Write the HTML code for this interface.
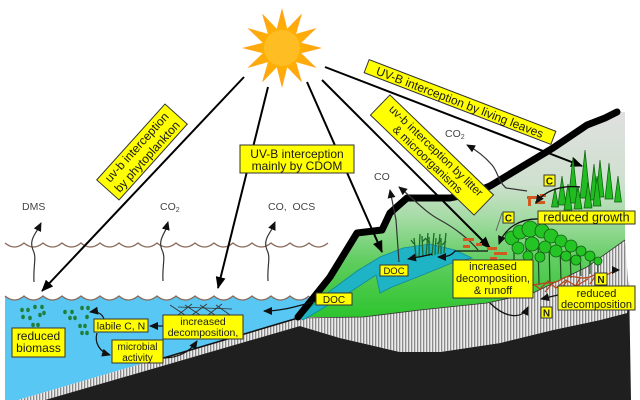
<!DOCTYPE html>
<html><head><meta charset="utf-8"><style>
html,body{margin:0;padding:0;background:#fff;}
svg{display:block;}
text{font-family:"Liberation Sans",Arial,sans-serif;fill:#1a1a1a;}
</style></head><body>
<svg width="640" height="400" viewBox="0 0 640 400" xmlns="http://www.w3.org/2000/svg">
<defs>
 <pattern id="hatch" width="3" height="4" patternUnits="userSpaceOnUse">
  <rect width="3" height="4" fill="#ececec"/>
  <rect width="1.3" height="4" fill="#8a8a8a"/>
 </pattern>
 <linearGradient id="land" x1="0" y1="110" x2="0" y2="320" gradientUnits="userSpaceOnUse">
  <stop offset="0" stop-color="#e0e0e0"/>
  <stop offset="0.35" stop-color="#cfe0cf"/>
  <stop offset="0.52" stop-color="#a3dba3"/>
  <stop offset="0.72" stop-color="#5fcd5f"/>
  <stop offset="1" stop-color="#2bc42b"/>
 </linearGradient>
 <radialGradient id="sunr" cx="282" cy="48" r="40" gradientUnits="userSpaceOnUse">
  <stop offset="0.4" stop-color="#ffb000"/>
  <stop offset="1" stop-color="#ffa21a"/>
 </radialGradient>
 <marker id="big" viewBox="0 0 12 10" refX="11" refY="5" markerWidth="12" markerHeight="10" markerUnits="userSpaceOnUse" orient="auto"><path d="M0,0 L12,5 L0,10 z" fill="#000"/></marker>
 <marker id="sm" viewBox="0 0 9 8" refX="8" refY="4" markerWidth="9" markerHeight="8" markerUnits="userSpaceOnUse" orient="auto"><path d="M0,0 L9,4 L0,8 z" fill="#111"/></marker>
</defs>

<rect width="640" height="400" fill="#fff"/>

<!-- water -->
<path d="M5,296 q9.5,8 19,0 q9.5,8 19,0 q9.5,8 19,0 q9.5,8 19,0 q9.5,8 19,0 q9.5,8 19,0 q9.5,8 19,0 q9.5,8 19,0 q9.5,8 19,0 q9.5,8 19,0 q9.5,8 19,0 q9.5,8 19,0 q9.5,8 19,0 q9.5,8 19,0 q9.5,8 19,0 q9.5,8 19,0 L314,296 L298,318 L18,400 L5,400 Z" fill="#59c7f3"/>
<path d="M5,296 q9.5,8 19,0 q9.5,8 19,0 q9.5,8 19,0 q9.5,8 19,0 q9.5,8 19,0 q9.5,8 19,0 q9.5,8 19,0 q9.5,8 19,0 q9.5,8 19,0 q9.5,8 19,0 q9.5,8 19,0 q9.5,8 19,0 q9.5,8 19,0 q9.5,8 19,0 q9.5,8 19,0 q9.5,8 19,0" fill="none" stroke="#8a6a5a" stroke-width="1.3"/>
<!-- upper wave -->
<path d="M5,243 q9.5,8 19,0 q9.5,8 19,0 q9.5,8 19,0 q9.5,8 19,0 q9.5,8 19,0 q9.5,8 19,0 q9.5,8 19,0 q9.5,8 19,0 q9.5,8 19,0 q9.5,8 19,0 q9.5,8 19,0 q9.5,8 19,0 q9.5,8 19,0 q9.5,8 19,0 q9.5,8 19,0 q9.5,8 19,0 q9.5,8 19,0" fill="none" stroke="#8a6a5a" stroke-width="1.3"/>

<!-- sediment band under water -->
<path d="M18,400 L298,318 L300,326 L45,400 Z" fill="url(#hatch)"/>
<path d="M150,362 L298,318" stroke="#111" stroke-width="1.5" fill="none"/>
<!-- black bedrock -->
<path d="M45,400 L300,326 L340,338 L400,352 L440,352 L500,343 L553,330 L600,320 L627,313 L629,280 L631,400 Z" fill="#1f1f1f"/>
<!-- land hatched -->
<path d="M298,318 L363,317 L420,310 L487,303 L533,293 L587,267 L625,240 L628,280 L627,313 L600,320 L553,330 L500,343 L440,352 L400,352 L340,338 L300,326 Z" fill="url(#hatch)"/>
<!-- land green/grey -->
<path d="M298,317 L330,277 L357,233 L382,230 L390,213 L407,198 L450,198 L490,186 L553,148 L587,125 L605,118 L617,112 L625,112 L625,240 L587,267 L533,293 L487,303 L420,310 L363,317 Z" fill="url(#land)"/>
<path d="M298,318 L363,317 L420,310 L487,303 L533,293 L587,267 L625,240" fill="none" stroke="#333" stroke-width="0.8"/>

<!-- lake -->
<path d="M300,318 L313,305 L330,291 L357,271 L380,257 L403,248 L430,244 L455,250 L472,258 L452,263 L420,276 L392,287 L380,293 L376,275 L350,292 L320,310 L303,320 Z" fill="#1fb3c6" stroke="#118a99" stroke-width="0.8"/>

<!-- thick mountain line -->
<path d="M298,317 L330,277 L357,233 L382,230 L390,213 L407,198 L450,198 L470,194 L490,186 L553,148 L587,125 L605,118 L617,112" fill="none" stroke="#000" stroke-width="7" stroke-linejoin="round" stroke-linecap="round"/>

<!-- sun -->
<polygon points="282,8 287.2,28.7 302,13.4 296.1,33.9 316.6,28 301.3,42.8 322,48 301.3,53.2 316.6,68 296.1,62.1 302,82.6 287.2,67.3 282,88 276.8,67.3 262,82.6 267.9,62.1 247.4,68 262.7,53.2 242,48 262.7,42.8 247.4,28 267.9,33.9 262,13.4 276.8,28.7" fill="url(#sunr)"/>
<circle cx="282" cy="48" r="18" fill="#ffbd24"/>

<!-- big sun arrows -->
<g stroke="#000" stroke-width="2" fill="none">
 <line x1="244" y1="77" x2="42" y2="291" marker-end="url(#big)"/>
 <line x1="268" y1="87" x2="218" y2="288" marker-end="url(#big)"/>
 <line x1="307" y1="82" x2="382" y2="252" marker-end="url(#big)"/>
 <line x1="322" y1="80" x2="490" y2="248" marker-end="url(#big)"/>
 <line x1="325" y1="67" x2="582" y2="166" marker-end="url(#big)"/>
</g>

<!-- gas arrows -->
<g stroke="#333" stroke-width="1.2" fill="none">
 <path d="M34,282 C33,265 37,258 33,250 C29,241 35,234 38,229 L41,223" marker-end="url(#sm)"/>
 <path d="M163,281 C162,265 166,258 162,250 C158,241 164,234 166,229 L168,222" marker-end="url(#sm)"/>
 <path d="M268,281 C267,265 271,258 267,250 C263,241 269,234 272,229 L275,222" marker-end="url(#sm)"/>
 <path d="M399,262 L396,220 L390,190" marker-end="url(#sm)"/>
 <path d="M478,250 C470,240 455,228 440,220 C425,212 415,200 399,187" marker-end="url(#sm)"/>
 <path d="M527,191 L506,188 C498,181 498,172 492,165 C486,158 478,151 467,145" marker-end="url(#sm)"/>
</g>
<g font-size="10.5" fill="#444">
 <text x="22" y="210" style="fill:#444">DMS</text>
 <text x="160" y="210" style="fill:#444">CO<tspan font-size="7" dy="2">2</tspan></text>
 <text x="268" y="210" style="fill:#444">CO,&#160; OCS</text>
 <text x="374" y="180" style="fill:#444">CO</text>
 <text x="445" y="137" style="fill:#444">CO<tspan font-size="7" dy="2">2</tspan></text>
</g>

<!-- phytoplankton dots -->
<g fill="#1d7f3a">
 <ellipse cx="22" cy="310" rx="1.8" ry="2.2"/><ellipse cx="28" cy="310" rx="1.8" ry="2.2"/>
 <ellipse cx="35" cy="307" rx="1.8" ry="2.2"/><ellipse cx="42" cy="307" rx="1.8" ry="2.2"/>
 <ellipse cx="23" cy="317" rx="1.8" ry="2.2"/><ellipse cx="30" cy="318" rx="1.8" ry="2.2"/>
 <ellipse cx="40" cy="315" rx="1.8" ry="2.2"/><ellipse cx="44" cy="313" rx="1.8" ry="2.2"/>
 <ellipse cx="33" cy="325" rx="1.8" ry="2.2"/><ellipse cx="38" cy="325" rx="1.8" ry="2.2"/>
 <ellipse cx="65" cy="312" rx="1.8" ry="2.2"/><ellipse cx="72" cy="312" rx="1.8" ry="2.2"/>
 <ellipse cx="82" cy="308" rx="1.8" ry="2.2"/><ellipse cx="88" cy="308" rx="1.8" ry="2.2"/>
 <ellipse cx="70" cy="318" rx="1.8" ry="2.2"/><ellipse cx="75" cy="318" rx="1.8" ry="2.2"/>
 <ellipse cx="87" cy="317" rx="1.8" ry="2.2"/><ellipse cx="80" cy="326" rx="1.8" ry="2.2"/>
 <ellipse cx="85" cy="326" rx="1.8" ry="2.2"/><ellipse cx="82" cy="333" rx="1.8" ry="2.2"/>
 <ellipse cx="87" cy="333" rx="1.8" ry="2.2"/>
</g>
<!-- cross hatch litter in water -->
<g stroke="#333" stroke-width="0.8">
 <line x1="170" y1="305" x2="185" y2="315"/><line x1="178" y1="315" x2="192" y2="304"/>
 <line x1="185" y1="305" x2="200" y2="315"/><line x1="192" y1="315" x2="207" y2="304"/>
 <line x1="200" y1="305" x2="215" y2="315"/><line x1="208" y1="315" x2="222" y2="304"/>
 <line x1="216" y1="305" x2="230" y2="315"/><line x1="178" y1="307" x2="232" y2="309"/>
</g>

<!-- water arrows -->
<g stroke="#111" stroke-width="1.2" fill="none">
 <path d="M104,319 C102,313 96,311 90,312" marker-end="url(#sm)"/>
 <path d="M97,333 C94,343 100,352 110,355" marker-end="url(#sm)"/>
 <path d="M163,358 C178,358 190,352 197,341" marker-end="url(#sm)"/>
 <path d="M163,326 L150,326" marker-end="url(#sm)"/>
 <path d="M317,301 C300,305 285,311 264,311" marker-end="url(#sm)"/>
</g>

<!-- reeds -->
<g stroke="#1d6b2d" stroke-width="1.3" fill="none">
 <path d="M416,257 L414,238"/><path d="M419,257 L420,234"/><path d="M423,257 L422,236"/>
 <path d="M426,256 L428,233"/><path d="M429,256 L429,237"/><path d="M432,256 L434,233"/>
 <path d="M435,255 L436,238"/><path d="M438,254 L440,234"/><path d="M441,254 L441,238"/>
 <path d="M444,253 L446,233"/>
 <path d="M414,244 L411,240"/><path d="M422,242 L426,238"/><path d="M430,243 L426,239"/><path d="M437,244 L441,240"/><path d="M442,245 L446,241"/>
</g>

<!-- conifers -->
<g fill="#22bb22" stroke="#0b5a0b" stroke-width="0.7">
 <polygon points="585,150 590,198 580,198"/>
 <polygon points="573,157 578,203 568,203"/>
 <polygon points="562,176 566,205 558,205"/>
 <polygon points="594,164 598,200 590,200"/>
 <polygon points="600,160 604,197 596,197"/>
 <polygon points="609,163 613,199 605,199"/>
 <polygon points="618,176 621.5,202 614.5,202"/>
 <polygon points="597,176 601,206 593,206"/>
 <polygon points="588,182 592,208 584,208"/>
 <polygon points="578,186 582,209 574,209"/>
 <polygon points="568,184 572,210 564,210"/>
 <polygon points="555,188 558.5,207 551.5,207"/>
</g>

<!-- deciduous trees -->
<g stroke="#1a4a1a" stroke-width="1.2">
 <line x1="514" y1="245" x2="514" y2="275"/><line x1="526" y1="238" x2="527" y2="283"/>
 <line x1="538" y1="240" x2="539" y2="285"/><line x1="549" y1="245" x2="550" y2="283"/>
 <line x1="560" y1="247" x2="561" y2="280"/><line x1="570" y1="252" x2="571" y2="278"/>
 <line x1="580" y1="256" x2="581" y2="276"/><line x1="590" y1="260" x2="590" y2="274"/>
 <line x1="598" y1="264" x2="598" y2="272"/>
</g>
<g fill="#25c425" stroke="#135f13" stroke-width="0.8">
 <circle cx="512" cy="238" r="7"/><circle cx="520" cy="232" r="7"/><circle cx="530" cy="229" r="8"/>
 <circle cx="542" cy="231" r="7"/><circle cx="551" cy="236" r="7"/><circle cx="561" cy="241" r="6"/>
 <circle cx="571" cy="246" r="6"/><circle cx="581" cy="251" r="5"/><circle cx="590" cy="256" r="5"/>
 <circle cx="598" cy="261" r="4"/><circle cx="518" cy="248" r="6"/><circle cx="532" cy="244" r="7"/>
 <circle cx="545" cy="247" r="6"/><circle cx="556" cy="251" r="6"/><circle cx="566" cy="256" r="5"/>
 <circle cx="576" cy="260" r="5"/><circle cx="528" cy="256" r="5"/><circle cx="540" cy="257" r="5"/>
</g>

<!-- roots -->
<g stroke="#b5471b" stroke-width="1.3" fill="none">
 <path d="M528,288 C540,280 552,286 562,279 S580,282 592,276 S605,278 612,272"/>
 <path d="M532,283 L540,289 L548,281 L556,288 L566,280 L576,286 L588,279"/>
 <path d="M545,292 L552,284 M560,290 L567,281 M575,287 L580,278 M590,284 L596,275"/>
</g>

<!-- litter dashes -->
<g fill="#d05a20">
 <rect x="463" y="238" width="11" height="3"/><rect x="463" y="245" width="7" height="3"/>
 <rect x="476" y="243" width="6" height="3"/><rect x="487" y="247" width="10" height="3"/>
 <rect x="494" y="252" width="13" height="3"/><rect x="490" y="257" width="7" height="3"/>
 <rect x="500" y="259" width="6" height="3"/>
 <rect x="527" y="196" width="10" height="3"/><rect x="535" y="201" width="10" height="3"/>
 <rect x="528" y="199" width="3" height="7"/><rect x="540" y="194" width="6" height="3"/>
</g>

<!-- land arrows -->
<g stroke="#111" stroke-width="1.3" fill="none">
 <path d="M580,187 C562,185 545,190 536,203" marker-end="url(#sm)"/>
 <path d="M540,219 C520,218 505,228 499,244" marker-end="url(#sm)"/>
 <path d="M488,251 L455,251 C452,255 448,257 438,257" marker-end="url(#sm)"/>
 <path d="M432,254 C425,256 418,257 408,259" marker-end="url(#sm)"/>
 <path d="M490,303 C505,318 522,320 528,307" marker-end="url(#sm)"/>
 <path d="M558,295 L541,299" marker-end="url(#sm)"/>
 <path d="M502,213 L496,231" stroke="#555" stroke-width="0.8"/>
</g>
<polygon points="612,266 620,270 612,274" fill="#111"/>

<!-- boxes -->
<g stroke="#333" stroke-width="1" fill="#ffff00">
 <rect x="240" y="145" width="114" height="28"/>
 <rect x="12" y="328" width="53" height="29"/>
 <rect x="94" y="319" width="54" height="13"/>
 <rect x="163" y="315" width="80" height="24"/>
 <rect x="112" y="340" width="51" height="23"/>
 <rect x="316" y="293" width="36" height="12"/>
 <rect x="380" y="265" width="28" height="11"/>
 <rect x="453" y="260" width="80" height="38"/>
 <rect x="538" y="211" width="97" height="13"/>
 <rect x="544" y="175" width="11" height="11"/>
 <rect x="503" y="212" width="11" height="11"/>
 <rect x="595" y="273" width="12" height="12"/>
 <rect x="541" y="307" width="11" height="11"/>
 <rect x="558" y="286" width="77" height="24"/>
</g>
<g text-anchor="middle">
 <text x="297" y="158" font-size="12">UV-B interception</text>
 <text x="297" y="170" font-size="12">mainly by CDOM</text>
 <text x="38.5" y="340" font-size="12">reduced</text>
 <text x="38.5" y="352" font-size="12">biomass</text>
 <text x="121" y="329.5" font-size="10.5">labile C, N</text>
 <text x="203" y="325" font-size="10.5">increased</text>
 <text x="203" y="336" font-size="10.5">decomposition,</text>
 <text x="137.5" y="350" font-size="10">microbial</text>
 <text x="137.5" y="361" font-size="10">activity</text>
 <text x="334" y="303" font-size="10">DOC</text>
 <text x="394" y="274" font-size="9.5">DOC</text>
 <text x="493" y="270" font-size="11">increased</text>
 <text x="493" y="282" font-size="11">decomposition,</text>
 <text x="493" y="294" font-size="11">&amp; runoff</text>
 <text x="586.5" y="221.5" font-size="12.5">reduced growth</text>
 <text x="549.5" y="184.5" font-size="10" font-weight="bold">C</text>
 <text x="508.5" y="221.5" font-size="10" font-weight="bold">C</text>
 <text x="601" y="283" font-size="10" font-weight="bold">N</text>
 <text x="546.5" y="316.5" font-size="10" font-weight="bold">N</text>
 <text x="596.5" y="297" font-size="11">reduced</text>
 <text x="596.5" y="308" font-size="11">decomposition</text>
</g>

<!-- rotated boxes -->
<g transform="translate(142,152) rotate(-48)">
 <rect x="-51" y="-15" width="102" height="30" fill="#ffff00" stroke="#333" stroke-width="1"/>
 <text x="0" y="-3" font-size="12" text-anchor="middle">uv-b interception</text>
 <text x="0" y="11" font-size="12" text-anchor="middle">by phytoplankton</text>
</g>
<g transform="translate(432,155) rotate(44)">
 <rect x="-72" y="-14" width="144" height="28" fill="#ffff00" stroke="#333" stroke-width="1"/>
 <text x="0" y="-2" font-size="11.5" text-anchor="middle">uv-b interception by litter</text>
 <text x="0" y="10" font-size="11.5" text-anchor="middle">&amp; microorganisms</text>
</g>
<g transform="translate(460,102) rotate(21)">
 <rect x="-100" y="-7" width="200" height="14" fill="#ffff00" stroke="#333" stroke-width="1"/>
 <text x="0" y="4.5" font-size="12" text-anchor="middle">UV-B interception by living leaves</text>
</g>
</svg>
</body></html>
